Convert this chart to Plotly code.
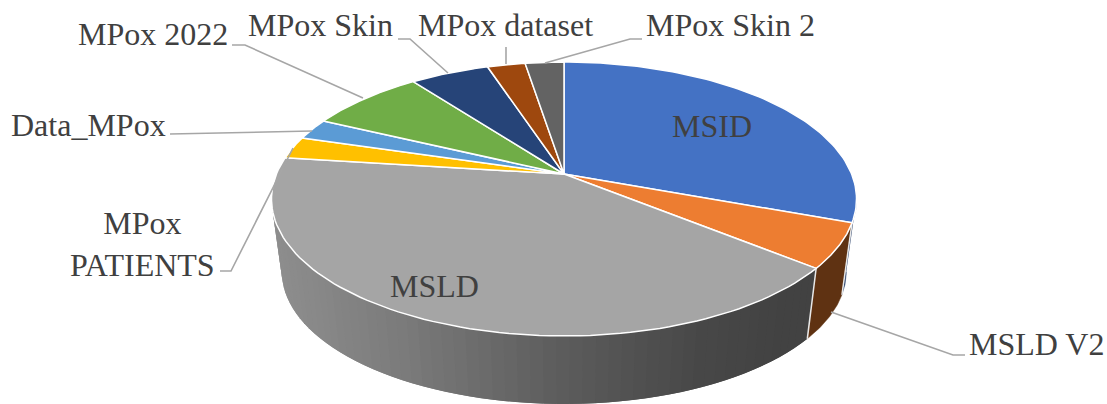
import numpy as np
import plotly.graph_objects as go

# ---- data (share of datasets, %) ----
labels = ["MSID", "MSLD V2", "MSLD", "MPox PATIENTS", "Data_MPox",
          "MPox 2022", "MPox Skin", "MPox dataset", "MPox Skin 2"]
values = [30.6, 5.25, 41.1, 2.64, 2.47, 7.64, 5.2, 2.5, 2.55]

# ---- styles ----
top_colors = ["#4472c4", "#ed7d31", "#a5a5a5", "#ffc000", "#5b9bd5",
              "#70ad47", "#264478", "#9e480e", "#636363"]
wall_colors = ["#1f3864", "#5f3212", None, None, None, None, None, None, None]
TEXT = "#404040"
LEADER = "#a6a6a6"
FONT = "Liberation Serif"
FS = 32

# ---- projection of the tilted disc into the chart's pixel-like axes ----
CX, K = 564.0, 0.1825
TOP = dict(cy=174.0, a=287.6, b=132.4)
BOT = dict(cy=247.7, a=277.5, b=127.8)


def project(theta_deg, d):
    t = np.radians(theta_deg)
    u, v = np.sin(t), np.cos(t)
    w = 1 + K * v
    return CX + d["a"] * u / w, d["cy"] - d["b"] * v / w


def ramp(x):
    xs = [272, 400, 564, 700, 790, 860]
    cs = [143, 124, 92, 72, 66, 66]
    g = int(np.interp(x, xs, cs))
    return f"rgb({g},{g},{g})"


edges = np.concatenate([[0], np.cumsum(values)]) / np.sum(values) * 360
TANGENT = np.degrees(np.arccos(-K))

fig = go.Figure()


def poly(xs, ys, fill, line=None, width=0):
    fig.add_trace(go.Scatter(
        x=list(xs), y=list(ys), mode="lines", fill="toself", fillcolor=fill,
        line=dict(color=line or fill, width=width), hoverinfo="skip",
        showlegend=False))


# outer wall, drawn from the data's angles
def wall(a0, a1, color=None):
    a0, a1 = max(a0, TANGENT), min(a1, 360 - TANGENT)
    if a1 <= a0:
        return
    if color:
        th = np.linspace(a0, a1, 40)
        xt, yt = project(th, TOP)
        xb, yb = project(th[::-1], BOT)
        poly(np.r_[xt, xb], np.r_[yt, yb], color, color, 0.5)
        return
    # overlapping bands painted left to right so no seams appear
    th = np.linspace(a1, a0, 61)
    for j in range(len(th) - 1):
        tt = th[j:min(j + 3, len(th))]
        xt, yt = project(tt, TOP)
        xb, yb = project(tt[::-1], BOT)
        c = ramp(float(np.mean(np.r_[xt[:2], xb[-2:]])))
        poly(np.r_[xt, xb], np.r_[yt, yb], c, c, 0)


for i in range(len(values)):
    wall(edges[i], edges[i + 1], wall_colors[i])

# white seams on the wall
for e in edges[1:3]:
    xt, yt = project(e, TOP)
    xb, yb = project(e, BOT)
    fig.add_trace(go.Scatter(x=[xt, xb], y=[yt, yb], mode="lines",
                             line=dict(color="#e8e8e8", width=1.5),
                             hoverinfo="skip", showlegend=False))

# top face
for i in range(len(values)):
    th = np.linspace(edges[i], edges[i + 1], 90)
    x, y = project(th, TOP)
    poly(np.r_[CX, x, CX], np.r_[TOP["cy"], y, TOP["cy"]],
         top_colors[i], "#ffffff", 1.5)

# leader lines (label -> slice)
leaders = [
    ([232, 245, 363], [45, 45, 98]),
    ([398, 410, 448], [39, 39, 73]),
    ([506, 506], [47, 64]),
    ([642, 630, 545], [39, 39, 63]),
    ([170, 312], [134, 131]),
    ([220, 231, 293], [271, 271, 148]),
    ([831, 953, 965], [312, 355, 355]),
]
for lx, ly in leaders:
    fig.add_trace(go.Scatter(x=lx, y=ly, mode="lines",
                             line=dict(color=LEADER, width=1.6),
                             hoverinfo="skip", showlegend=False))

# slice labels
label_pos = {
    "MSID": (712, 126),
    "MSLD V2": (1036, 344),
    "MSLD": (434, 286),
    "MPox PATIENTS": (142, 244),
    "Data_MPox": (88, 125),
    "MPox 2022": (153, 34),
    "MPox Skin": (320, 25),
    "MPox dataset": (505, 25),
    "MPox Skin 2": (730, 25),
}
for name in labels:
    px, py = label_pos[name]
    text = "MPox<br>PATIENTS" if name == "MPox PATIENTS" else name
    fig.add_annotation(x=px, y=py, text=text, showarrow=False, xanchor="center",
                       yanchor="middle", align="center",
                       font=dict(family=FONT, size=FS, color=TEXT))

fig.update_layout(
    width=1107, height=404, margin=dict(l=0, r=0, t=0, b=0),
    paper_bgcolor="white", plot_bgcolor="white", showlegend=False,
    xaxis=dict(range=[0, 1107], visible=False, fixedrange=True),
    yaxis=dict(range=[404, 0], visible=False, fixedrange=True),
)
fig.write_html("out.html", config={"displayModeBar": False},
               post_script="document.body.style.margin='0';document.documentElement.style.overflow='hidden';")
